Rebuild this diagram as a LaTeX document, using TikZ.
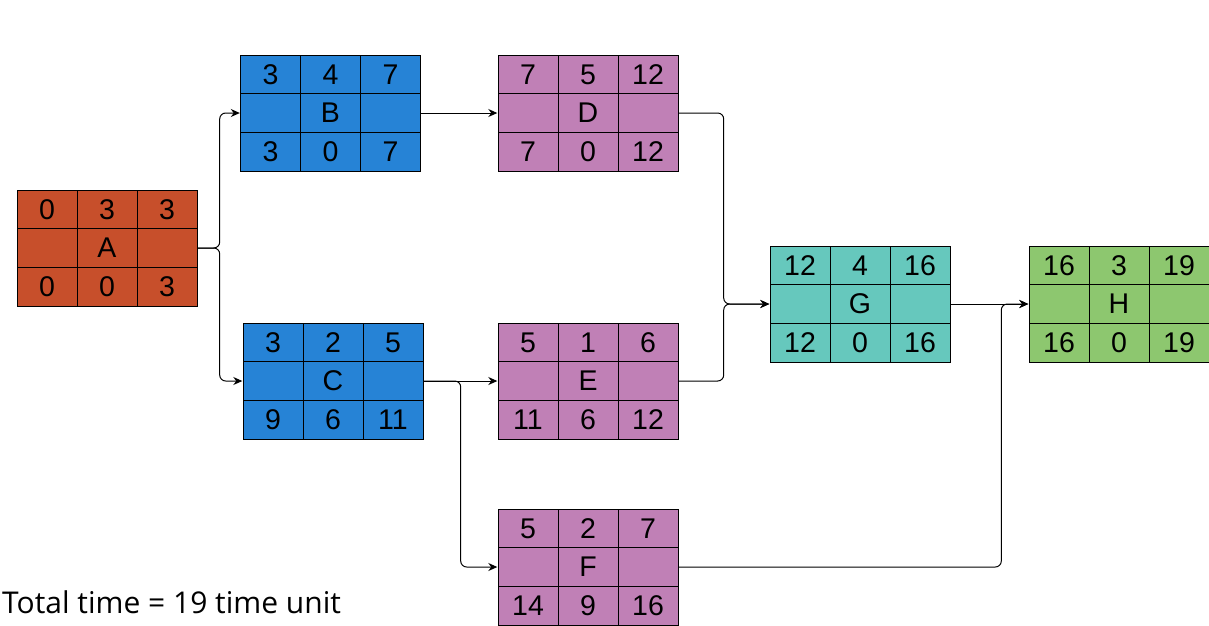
\documentclass[tikz,border=0pt]{standalone}
\usepackage{fontspec}
\setmainfont{Liberation Sans}
\newfontfamily\opensans{Open Sans}
\usetikzlibrary{matrix,arrows.meta}
\definecolor{cA}{HTML}{C74F2B}
\definecolor{cB}{HTML}{2683D6}
\definecolor{cD}{HTML}{C080B6}
\definecolor{cG}{HTML}{66C8BD}
\definecolor{cH}{HTML}{8DC76F}
\tikzset{
  cell/.style={draw=black, line width=1pt, minimum width=60pt, minimum height=38.67pt, inner sep=0pt, anchor=center, font=\fontsize{28.5}{28.5}\selectfont},
  actbox/.style={matrix of nodes, nodes in empty cells, inner sep=0pt, column sep=-1pt, row sep=-1pt, nodes={cell, fill=#1}},
  conn/.style={line width=1pt, rounded corners=6pt, -{Stealth[length=9pt,width=8pt]}},
}
\begin{document}
\begin{tikzpicture}[x=1pt,y=-1pt]
\useasboundingbox (0,0) rectangle (1209,625);
\matrix (A) [actbox=cA] at (107,248) {0 & 3 & 3\\ & A & \\ 0 & 0 & 3\\};
\matrix (B) [actbox=cB] at (330.5,113) {3 & 4 & 7\\ & B & \\ 3 & 0 & 7\\};
\matrix (C) [actbox=cB] at (333,381) {3 & 2 & 5\\ & C & \\ 9 & 6 & 11\\};
\matrix (D) [actbox=cD] at (588,113) {7 & 5 & 12\\ & D & \\ 7 & 0 & 12\\};
\matrix (E) [actbox=cD] at (588,381) {5 & 1 & 6\\ & E & \\ 11 & 6 & 12\\};
\matrix (F) [actbox=cD] at (588,567) {5 & 2 & 7\\ & F & \\ 14 & 9 & 16\\};
\matrix (G) [actbox=cG] at (860,304) {12 & 4 & 16\\ & G & \\ 12 & 0 & 16\\};
\matrix (H) [actbox=cH] at (1119,304) {16 & 3 & 19\\ & H & \\ 16 & 0 & 19\\};
\draw[conn] (A.east) -- ++(22,0) |- (B.west);
\draw[conn] (A.east) -- ++(22,0) |- (C.west);
\draw[conn] (B.east) -- (D.west);
\draw[conn] (C.east) -- (E.west);
\draw[conn] (C.east) -- ++(37,0) |- (F.west);
\draw[conn] (D.east) -- ++(45,0) |- (G.west);
\draw[conn] (E.east) -- ++(45,0) |- (G.west);
\draw[conn] (G.east) -- (H.west);
\draw[conn] (F.east) -| ([xshift=-27pt]H.west) -- (H.west);
\node (total) [anchor=base west, inner sep=0pt, font=\opensans\fontsize{30}{30}\selectfont] at (2,613) {Total time = 19 time unit};
\end{tikzpicture}
\end{document}
